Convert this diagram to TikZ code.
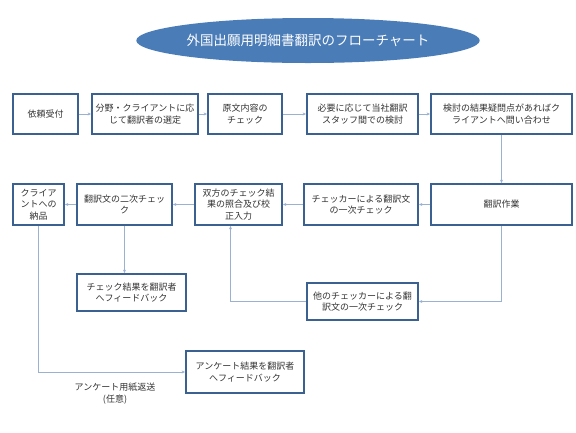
\documentclass[tikz,border=0pt]{standalone}
\usepackage{fontspec}
\newfontfamily\jp{Noto Sans CJK JP}
\usetikzlibrary{arrows.meta,positioning,shapes.geometric}
\definecolor{boxline}{HTML}{3A6190}
\definecolor{linkline}{HTML}{9BB1D0}
\definecolor{titlefill}{HTML}{4A7CB8}

\begin{document}
\begin{tikzpicture}[x=1pt, y=-1pt,
  box/.style={rectangle, draw=boxline, line width=1.8pt, fill=white, font=\jp\fontsize{9}{11.5}\selectfont, align=center, inner sep=1pt, text=black!80},
  link/.style={draw=linkline, line width=0.6pt, -{Stealth[length=3.5pt,width=3pt]}},
  title/.style={ellipse, fill=titlefill, text=white, font=\jp\fontsize{13.5}{16}\selectfont, inner sep=0pt}
]
\useasboundingbox (0,0) rectangle (576,432);

% Title
\node[title, minimum width=326pt, minimum height=45pt] (ttl) at (308,40.5) {外国出願用明細書翻訳のフローチャート};

% Row 1
\node[box, minimum width=65pt, minimum height=40pt] (uketsuke) at (45.5,114) {依頼受付};
\node[box, minimum width=106pt, minimum height=40pt] (sentei) at (145,114) {分野・クライアントに応\\じて翻訳者の選定};
\node[box, minimum width=74pt, minimum height=40pt] (genbun) at (245,114) {原文内容の\\チェック};
\node[box, minimum width=111pt, minimum height=40pt] (kento) at (362.5,114) {必要に応じて当社翻訳\\スタッフ間での検討};
\node[box, minimum width=141pt, minimum height=40pt] (toiawase) at (501.5,114) {検討の結果疑問点があればク\\ライアントへ問い合わせ};

% Row 2
\node[box, minimum width=51pt, minimum height=41pt] (nohin) at (38.5,204.5) {クライア\\ントへの\\納品};
\node[box, minimum width=95pt, minimum height=41pt] (check2) at (124.5,204.5) {翻訳文の二次チェッ\\ク};
\node[box, minimum width=87pt, minimum height=41pt] (shogo) at (238.5,204.5) {双方のチェック結\\果の照合及び校\\正入力};
\node[box, minimum width=114pt, minimum height=41pt] (check1) at (361,204.5) {チェッカーによる翻訳文\\の一次チェック};
\node[box, minimum width=141pt, minimum height=41pt] (honyaku) at (501.5,204.5) {翻訳作業};

% Row 3
\node[box, minimum width=109pt, minimum height=37pt] (fb1) at (131.5,292.5) {チェック結果を翻訳者\\へフィードバック};
\node[box, minimum width=111pt, minimum height=37pt] (check3) at (362.5,301.5) {他のチェッカーによる翻\\訳文の一次チェック};

% Row 4
\node[box, minimum width=118pt, minimum height=42pt] (fb2) at (245,372) {アンケート結果を翻訳者\\へフィードバック};
\node[font=\jp\fontsize{9}{11.5}\selectfont, align=center, text=black!80] (enq) at (115,393.5) {アンケート用紙返送\\(任意)};

% Connectors
\draw[link] (uketsuke) -- (sentei);
\draw[link] (sentei) -- (genbun);
\draw[link] (genbun) -- (kento);
\draw[link] (kento) -- (toiawase);
\draw[link] (toiawase) -- (honyaku);
\draw[link] (honyaku) -- (check1);
\draw[link] (check1) -- (shogo);
\draw[link] (shogo) -- (check2);
\draw[link] (check2) -- (nohin);
\draw[link] (honyaku.south) |- (check3.east);
\draw[link] (check3.west) -| ([xshift=-8pt]shogo.south);
\draw[link] (check2.south) -- (check2.south |- fb1.north);
\draw[link] (nohin.south) |- (fb2.west);
\end{tikzpicture}
\end{document}
